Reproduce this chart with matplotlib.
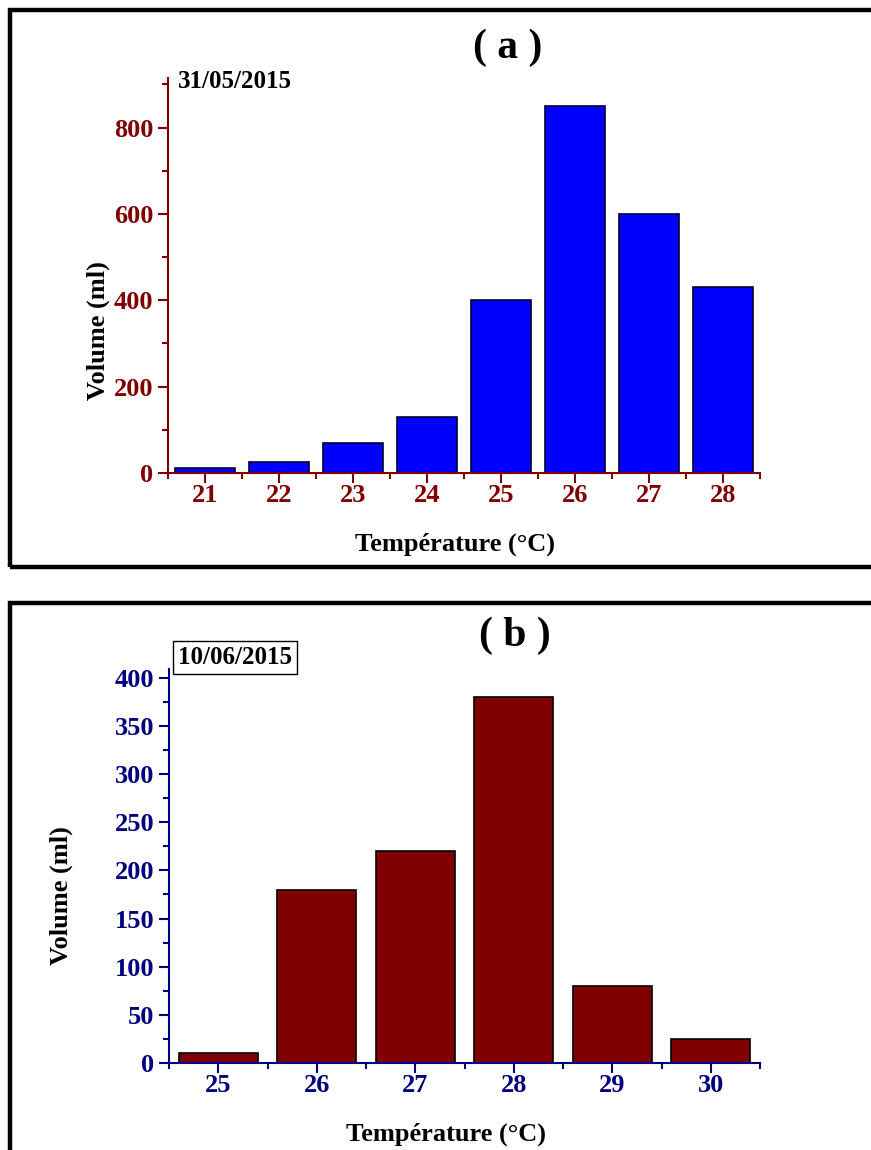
import numpy as np
import matplotlib.pyplot as plt
from matplotlib.patches import Rectangle
from matplotlib.ticker import MultipleLocator

temp_a = [21, 22, 23, 24, 25, 26, 27, 28]
vol_a = [11, 26, 70, 130, 400, 850, 600, 430]
temp_b = [25, 26, 27, 28, 29, 30]
vol_b = [10, 180, 220, 380, 80, 25]

plt.rcParams['font.family'] = 'Liberation Serif'
plt.rcParams['font.weight'] = 'bold'

W, H = 871, 1150
fig = plt.figure(figsize=(W / 100, H / 100), dpi=100)


def px_axes(l, t, r, b):
    return fig.add_axes([l / W, 1 - b / H, (r - l) / W, (b - t) / H])


def frame(l, t, r, b):
    fig.patches.append(Rectangle((l / W, 1 - b / H), (r - l) / W, (b - t) / H,
                                 transform=fig.transFigure, fill=False,
                                 edgecolor='black', linewidth=3.2, clip_on=False))


def style(ax, col, major, minor, ymax, xs):
    for s in ['top', 'right']:
        ax.spines[s].set_visible(False)
    for s in ['left', 'bottom']:
        ax.spines[s].set_color(col)
        ax.spines[s].set_linewidth(1.5)
    ax.set_ylim(0, ymax)
    ax.set_xlim(xs[0] - 0.5, xs[-1] + 0.5)
    ax.set_xticks(xs)
    ax.set_xticks(np.arange(xs[0] - 0.5, xs[-1] + 1, 1.0), minor=True)
    ax.yaxis.set_major_locator(MultipleLocator(major))
    ax.yaxis.set_minor_locator(MultipleLocator(minor))
    ax.tick_params(which='major', direction='out', length=7, width=1.5, color=col,
                   labelcolor=col, labelsize=19)
    ax.tick_params(which='minor', direction='out', length=4, width=1.5, color=col)
    ax.tick_params(axis='x', pad=1)
    for lab in ax.get_xticklabels() + ax.get_yticklabels():
        lab.set_fontweight('bold')
    ax.set_xlabel('Température (°C)', fontsize=19, fontweight='bold')
    ax.set_ylabel('Volume (ml)', fontsize=19, fontweight='bold')


# panel (a)
frame(10, 10, 880, 567)
ax1 = px_axes(168, 78, 760, 473)
ax1.bar(temp_a, vol_a, width=0.8, color='#0000FF', edgecolor='#000033', linewidth=1.2)
style(ax1, '#800000', 200, 100, 915, temp_a)
ax1.yaxis.set_label_coords(-0.098, 0.36)
ax1.xaxis.set_label_coords(0.485, -0.152)
ax1.text(0.017, 0.99, '31/05/2015', transform=ax1.transAxes, fontsize=18,
         fontweight='bold', va='center', ha='left')
fig.text(508 / W, 1 - 48 / H, '( a )', fontsize=30, fontweight='bold', ha='center', va='center')

# panel (b)
frame(10, 603, 880, 1160)
ax2 = px_axes(169, 669, 760, 1063)
ax2.bar(temp_b, vol_b, width=0.8, color='#800000', edgecolor='black', linewidth=1.2)
style(ax2, '#000080', 50, 25, 409, temp_b)
ax2.yaxis.set_label_coords(-0.162, 0.426)
ax2.xaxis.set_label_coords(0.469, -0.152)
ax2.text(0.015, 1.03, '10/06/2015', transform=ax2.transAxes, fontsize=18,
         fontweight='bold', va='center', ha='left',
         bbox=dict(boxstyle='square,pad=0.2', facecolor='white', edgecolor='black', linewidth=1))
fig.text(515 / W, 1 - 636 / H, '( b )', fontsize=30, fontweight='bold', ha='center', va='center')

plt.savefig('out.png', dpi=100)
